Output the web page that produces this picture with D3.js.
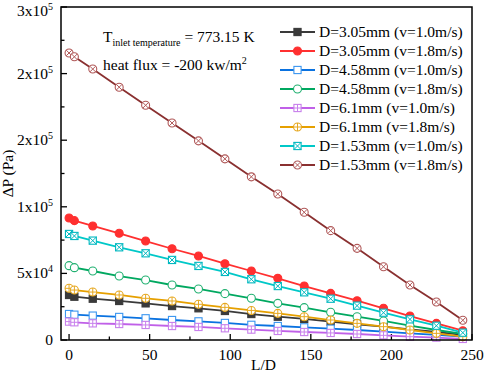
<!DOCTYPE html>
<html>
<head>
<meta charset="utf-8">
<script src="https://cdn.jsdelivr.net/npm/d3@7"></script>
<style>
  body { margin: 0; background: #fff; }
  svg { font-family: "Liberation Serif", "Times New Roman", serif; }
</style>
</head>
<body>
<div id="chart"></div>
<script>
const xs = [0, 3.3, 14.7, 31.1, 47.5, 63.9, 80.3, 96.7, 113.1, 129.5, 145.9, 162.3, 178.7, 195.1, 211.5, 227.9, 244.3];

const d305v10 = [33800, 32500, 31000, 29300, 27500, 25500, 23800, 21800, 19500, 17500, 15800, 13800, 11800, 10000, 8000, 6000, 3800];
const d305v18 = [91600, 89600, 85600, 80100, 74300, 68500, 63100, 57300, 51800, 46300, 40500, 35000, 29500, 23800, 18000, 12500, 7000];
const d458v10 = [19500, 19000, 18300, 17300, 16300, 15000, 14000, 12800, 11400, 10500, 9500, 8500, 7500, 6300, 5000, 3800, 2500];
const d458v18 = [55800, 54300, 51800, 48000, 45000, 41300, 38300, 34800, 31300, 27500, 24300, 20800, 17500, 14300, 10800, 7500, 4500];
const d61v10 = [13800, 13300, 12500, 12000, 11300, 10500, 9800, 8800, 7800, 6800, 6000, 5300, 4500, 3500, 2500, 1800, 800];
const d61v18 = [38800, 37500, 36000, 33800, 31300, 29300, 26800, 24500, 22200, 20000, 17500, 15000, 12500, 10000, 7500, 5000, 2500];
const d153v10 = [79600, 78100, 74600, 69600, 65100, 60100, 55600, 51100, 45600, 40500, 35800, 31000, 25800, 20500, 15500, 10700, 5500];
const d153v18 = [215500, 212600, 203400, 189800, 176200, 162900, 149500, 136000, 122500, 109600, 95900, 82100, 68800, 55000, 41300, 28500, 14800];

const seriesNames = ["D=3.05mm (v=1.0m/s)", "D=3.05mm (v=1.8m/s)", "D=4.58mm (v=1.0m/s)", "D=4.58mm (v=1.8m/s)",
                     "D=6.1mm (v=1.0m/s)", "D=6.1mm (v=1.8m/s)", "D=1.53mm (v=1.0m/s)", "D=1.53mm (v=1.8m/s)"];
const seriesValues = [d305v10, d305v18, d458v10, d458v18, d61v10, d61v18, d153v10, d153v18];
const lineColors = ["#3a3a3a", "#ff3030", "#0a72e0", "#00a860", "#c060e8", "#e6a000", "#00c8c8", "#8a3030"];
const markColors = ["#3a3a3a", "#ff3030", "#3a96f0", "#20b070", "#c880ec", "#e6a820", "#00b8c0", "#b05858"];
const markTypes = ["sqfill", "cirfill", "sq", "cir", "sqplus", "cirplus", "sqx", "cirx"];

const yTicks = [0, 50000, 100000, 150000, 200000, 250000];
const yTickLabels = [["0", ""], ["5x10", "4"], ["1x10", "5"], ["2x10", "5"], ["2x10", "5"], ["3x10", "5"]];
const xTicks = [0, 50, 100, 150, 200, 250];

const width = 484, height = 375;
const margin = {left: 61, right: 12, top: 7, bottom: 35};
const fs = 15.5;

const svg = d3.select("#chart").append("svg")
    .attr("width", width)
    .attr("height", height);

const x = d3.scaleLinear().domain([-5, 250]).range([margin.left, width - margin.right]);
const y = d3.scaleLinear().domain([0, 250000]).range([height - margin.bottom, margin.top]);

// minor ticks
const xMinor = d3.range(25, 250, 50);
const yMinor = d3.range(25000, 250000, 50000);

const axes = svg.append("g").attr("stroke", "#000").attr("stroke-width", 1.3);
axes.selectAll(".xt").data(xTicks).enter().append("line")
    .attr("x1", d => x(d)).attr("x2", d => x(d))
    .attr("y1", y(0)).attr("y2", y(0) - 6);
axes.selectAll(".xm").data(xMinor).enter().append("line")
    .attr("x1", d => x(d)).attr("x2", d => x(d))
    .attr("y1", y(0)).attr("y2", y(0) - 3.5);
axes.selectAll(".yt").data(yTicks).enter().append("line")
    .attr("x1", x.range()[0]).attr("x2", x.range()[0] + 6)
    .attr("y1", d => y(d)).attr("y2", d => y(d));
axes.selectAll(".ym").data(yMinor).enter().append("line")
    .attr("x1", x.range()[0]).attr("x2", x.range()[0] + 3.5)
    .attr("y1", d => y(d)).attr("y2", d => y(d));

svg.append("g").selectAll("text").data(xTicks).enter().append("text")
    .attr("x", d => x(d)).attr("y", y(0) + 20)
    .attr("text-anchor", "middle").attr("font-size", fs)
    .text(d => d);

// top label pushed down a little so its exponent stays inside the picture
const yl = svg.append("g").selectAll("text").data(yTicks).enter().append("text")
    .attr("x", x.range()[0] - 8).attr("y", d => Math.max(y(d) + 5, 16))
    .attr("text-anchor", "end").attr("font-size", fs);
yl.append("tspan").text((d, i) => yTickLabels[i][0]);
yl.append("tspan").attr("font-size", 10).attr("dy", -6).text((d, i) => yTickLabels[i][1]);

svg.append("text")
    .attr("transform", `translate(13,${(y.range()[0] + y.range()[1]) / 2}) rotate(-90)`)
    .attr("text-anchor", "middle").attr("font-size", fs)
    .text("ΔP (Pa)");
svg.append("text")
    .attr("x", (x.range()[0] + x.range()[1]) / 2 - 3).attr("y", height - 5)
    .attr("text-anchor", "middle").attr("font-size", fs)
    .text("L/D");

// lines
const line = d3.line().x((d, i) => x(xs[i])).y(d => y(d));
const plot = svg.append("g");
seriesValues.forEach((vals, k) => {
  plot.append("path")
      .datum(vals)
      .attr("d", line)
      .attr("fill", "none")
      .attr("stroke", lineColors[k])
      .attr("stroke-width", 1.8);
});

function drawMarker(g, type, color, cx, cy) {
  const s = 3.6, r = 4;
  const m = g.append("g").attr("transform", `translate(${cx},${cy})`);
  const fill = type.endsWith("fill") ? color : "#fff";
  if (type.startsWith("sq")) {
    m.append("rect").attr("x", -s).attr("y", -s).attr("width", 2 * s).attr("height", 2 * s)
        .attr("fill", fill).attr("stroke", color).attr("stroke-width", 1.1);
  } else {
    m.append("circle").attr("r", r)
        .attr("fill", fill).attr("stroke", color).attr("stroke-width", 1.1);
  }
  const e = type.startsWith("sq") ? s : r;
  if (type.endsWith("plus")) {
    m.append("path").attr("d", `M${-e},0H${e}M0,${-e}V${e}`).attr("stroke", color).attr("stroke-width", 1);
  }
  if (type.endsWith("x")) {
    const q = type.startsWith("sq") ? s : r * 0.707;
    m.append("path").attr("d", `M${-q},${-q}L${q},${q}M${-q},${q}L${q},${-q}`).attr("stroke", color).attr("stroke-width", 1);
  }
}

seriesValues.forEach((vals, k) => {
  const g = plot.append("g");
  vals.forEach((v, i) => drawMarker(g, markTypes[k], markColors[k], x(xs[i]), y(v)));
});

// frame
svg.append("rect")
    .attr("x", x.range()[0]).attr("y", y.range()[1])
    .attr("width", x.range()[1] - x.range()[0])
    .attr("height", y.range()[0] - y.range()[1])
    .attr("fill", "none").attr("stroke", "#000").attr("stroke-width", 1.5);

// legend
const legend = svg.append("g");
seriesNames.forEach((name, k) => {
  const ly = 32 + k * 19;
  legend.append("line").attr("x1", 280).attr("x2", 315).attr("y1", ly).attr("y2", ly)
      .attr("stroke", lineColors[k]).attr("stroke-width", 1.8);
  drawMarker(legend, markTypes[k], markColors[k], 297.5, ly);
  legend.append("text").attr("x", 319).attr("y", ly + 5).attr("font-size", fs).text(name);
});

// annotation
const t1 = svg.append("text").attr("x", 103).attr("y", 42).attr("font-size", fs);
t1.append("tspan").text("T");
t1.append("tspan").attr("font-size", 10).attr("dy", 4).text("inlet temperature");
t1.append("tspan").attr("dy", -4).text(" = 773.15 K");
const t2 = svg.append("text").attr("x", 103).attr("y", 70).attr("font-size", fs);
t2.append("tspan").text("heat flux = -200 kw/m");
t2.append("tspan").attr("font-size", 10).attr("dy", -6).text("2");
</script>
</body>
</html>
